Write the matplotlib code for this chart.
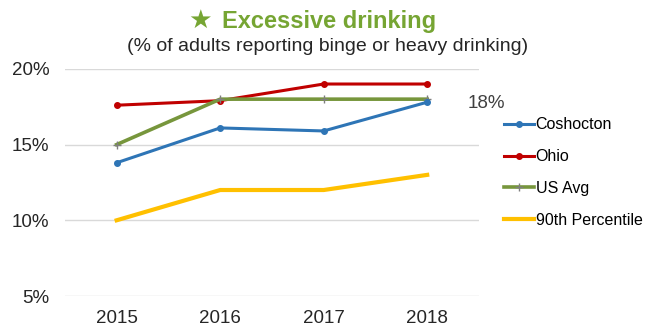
import matplotlib
matplotlib.use("Agg")
import matplotlib.pyplot as plt
from matplotlib.ticker import FuncFormatter

years = ["2015", "2016", "2017", "2018"]
coshocton = [13.8, 16.1, 15.9, 17.8]
ohio = [17.6, 17.9, 19.0, 19.0]
us_avg = [15.0, 18.0, 18.0, 18.0]
pct90 = [10.0, 12.0, 12.0, 13.0]
yticks = [5, 10, 15, 20]

plt.rcParams["font.family"] = ["Liberation Sans", "DejaVu Sans"]

fig = plt.figure(figsize=(6.49, 3.35), dpi=100)
ax = fig.add_axes([0.100, 0.1164, 0.638, 0.678])
x = range(len(years))

ax.plot(x, coshocton, color="#2e75b6", lw=2.2, marker="o", ms=4, label="Coshocton", zorder=4)
ax.plot(x, ohio, color="#c00000", lw=2.2, marker="o", ms=4, label="Ohio", zorder=3)
ax.plot(x, us_avg, color="#77963c", lw=2.6, marker="+", ms=6, mec="#7f7f7f", label="US Avg", zorder=3)
ax.plot(x, pct90, color="#ffc000", lw=3, label="90th Percentile", zorder=2)

# end label for the county value
ax.text(3.39, coshocton[-1] - 0.1, f"{coshocton[-1]:.0f}%", fontsize=13.5, color="#404040",
        va="center", ha="left")

ax.set_xlim(-0.5, 3.5)
ax.set_ylim(5, 20)
ax.set_xticks(list(x))
ax.set_xticklabels(years, fontsize=13.5, color="#262626")
ax.set_yticks(yticks)
ax.yaxis.set_major_formatter(FuncFormatter(lambda v, _: f"{v:.0f}%"))
ax.tick_params(axis="y", labelsize=13.5, colors="#262626", length=0, pad=11)
ax.tick_params(axis="x", length=0, pad=10)
ax.grid(axis="y", color="#d9d9d9", lw=1)
ax.set_axisbelow(True)
for s in ax.spines.values():
    s.set_visible(False)

fig.legend(loc="center left", bbox_to_anchor=(0.776, 0.485), frameon=False, fontsize=11.5,
           handlelength=1.9, handletextpad=0.1, labelspacing=1.05, borderpad=0, borderaxespad=0)

fig.text(0.308, 0.937, "\u2605", color="#76a533", fontsize=19, ha="center", va="center",
         family=["DejaVu Sans"])
fig.text(0.342, 0.937, "Excessive drinking", color="#76a533", fontsize=17, fontweight="bold",
         ha="left", va="center")
fig.text(0.504, 0.862, "(% of adults reporting binge or heavy drinking)", color="#262626",
         fontsize=14, ha="center", va="center")

fig.savefig("out.png", dpi=100)
